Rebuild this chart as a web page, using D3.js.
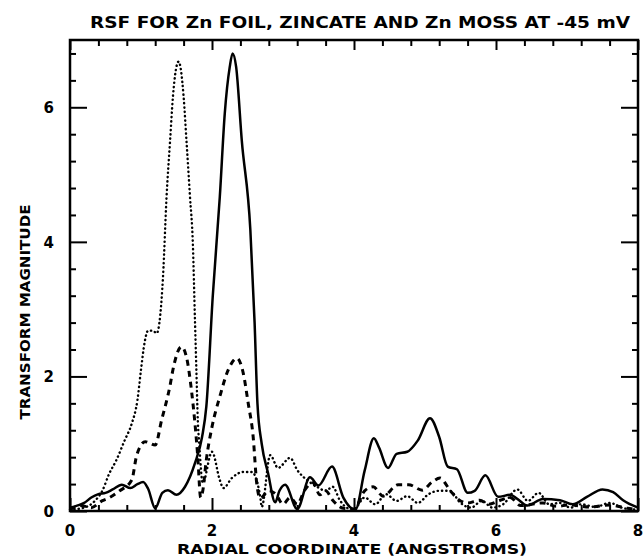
<!DOCTYPE html>
<html>
<head>
<meta charset="utf-8">
<script src="https://cdn.jsdelivr.net/npm/d3@7"></script>
<style>
  body { margin: 0; background: #fff; }
  text { font-family: "DejaVu Sans", sans-serif; font-weight: bold; fill: #000; }
</style>
</head>
<body>
<div id="chart"></div>
<script>
// Curve data (radial coordinate, transform magnitude)
var solidX = [0, 0.1, 0.2, 0.3, 0.4, 0.5, 0.6, 0.73, 0.85, 0.95, 1.03, 1.1, 1.2, 1.3, 1.38, 1.5, 1.62, 1.76, 1.86, 1.92, 2.01, 2.11, 2.18, 2.25, 2.29, 2.34, 2.42, 2.54, 2.6, 2.64, 2.7, 2.79, 2.89, 2.95, 3.03, 3.2, 3.38, 3.5, 3.69, 3.85, 4.02, 4.15, 4.28, 4.35, 4.48, 4.6, 4.75, 4.9, 5.07, 5.2, 5.32, 5.45, 5.6, 5.7, 5.85, 6.03, 6.2, 6.3, 6.44, 6.66, 6.9, 7.08, 7.28, 7.5, 7.65, 7.79, 8.0];
var solidY = [0.05, 0.08, 0.12, 0.2, 0.25, 0.27, 0.32, 0.39, 0.34, 0.4, 0.43, 0.33, 0.04, 0.27, 0.31, 0.24, 0.36, 0.71, 1.1, 1.55, 3.18, 4.67, 5.91, 6.6, 6.8, 6.6, 5.5, 4.18, 2.8, 1.6, 1.0, 0.56, 0.13, 0.3, 0.39, 0.03, 0.5, 0.38, 0.66, 0.2, 0.02, 0.6, 1.08, 0.95, 0.64, 0.85, 0.88, 1.05, 1.38, 1.1, 0.66, 0.62, 0.27, 0.3, 0.53, 0.21, 0.24, 0.18, 0.08, 0.18, 0.16, 0.1, 0.21, 0.32, 0.28, 0.16, 0.05];

var dashX = [0, 0.15, 0.3, 0.45, 0.54, 0.7, 0.87, 0.94, 1.06, 1.2, 1.29, 1.41, 1.45, 1.57, 1.64, 1.71, 1.76, 1.8, 1.84, 1.87, 1.92, 2.0, 2.11, 2.23, 2.35, 2.44, 2.51, 2.58, 2.63, 2.68, 2.8, 2.9, 3.0, 3.1, 3.2, 3.3, 3.42, 3.52, 3.6, 3.7, 3.85, 4.0, 4.15, 4.27, 4.41, 4.62, 4.77, 4.96, 5.1, 5.21, 5.35, 5.45, 5.6, 5.77, 5.9, 6.06, 6.2, 6.35, 6.5, 6.66, 6.85, 7.04, 7.32, 7.6, 7.85, 8.0];
var dashY = [0.02, 0.08, 0.05, 0.15, 0.19, 0.3, 0.46, 0.83, 1.03, 0.98, 1.35, 1.87, 2.1, 2.44, 2.29, 1.8, 1.3, 0.8, 0.2, 0.3, 0.76, 1.25, 1.7, 2.1, 2.27, 2.05, 1.6, 1.1, 0.41, 0.19, 0.3, 0.25, 0.1, 0.2, 0.1, 0.3, 0.42, 0.24, 0.3, 0.16, 0.04, 0.03, 0.3, 0.36, 0.22, 0.39, 0.39, 0.31, 0.43, 0.49, 0.31, 0.19, 0.12, 0.16, 0.1, 0.16, 0.2, 0.08, 0.1, 0.12, 0.07, 0.09, 0.06, 0.09, 0.04, 0.02];

var dotX = [0, 0.2, 0.35, 0.46, 0.55, 0.65, 0.77, 0.87, 0.95, 1.0, 1.05, 1.1, 1.17, 1.22, 1.27, 1.31, 1.36, 1.41, 1.45, 1.53, 1.6, 1.64, 1.69, 1.73, 1.76, 1.78, 1.8, 1.82, 1.87, 2.0, 2.11, 2.16, 2.28, 2.44, 2.56, 2.68, 2.7, 2.82, 2.93, 3.1, 3.2, 3.35, 3.48, 3.6, 3.7, 3.8, 3.92, 4.0, 4.15, 4.3, 4.45, 4.6, 4.75, 4.9, 5.05, 5.2, 5.35, 5.5, 5.65, 5.8, 5.95, 6.1, 6.3, 6.45, 6.6, 6.75, 6.9, 7.05, 7.2, 7.4, 7.6, 7.8, 8.0];
var dotY = [0.02, 0.05, 0.15, 0.31, 0.55, 0.75, 1.05, 1.3, 1.65, 2.1, 2.5, 2.68, 2.68, 2.64, 2.9, 3.48, 4.67, 5.51, 6.16, 6.68, 6.16, 5.51, 4.67, 3.98, 2.84, 2.1, 1.35, 1.0, 0.42, 0.88, 0.46, 0.34, 0.49, 0.58, 0.58, 0.21, 0.06, 0.83, 0.64, 0.79, 0.61, 0.45, 0.36, 0.3, 0.36, 0.16, 0.04, 0.03, 0.2, 0.1, 0.25, 0.15, 0.22, 0.12, 0.25, 0.3, 0.3, 0.12, 0.05, 0.15, 0.05, 0.1, 0.32, 0.15, 0.27, 0.1, 0.12, 0.05, 0.1, 0.06, 0.12, 0.04, 0.02];

var xMajor = [0, 2, 4, 6, 8];
var yMajor = [0, 2, 4, 6];

var titleText = "RSF FOR Zn FOIL, ZINCATE AND Zn MOSS AT -45 mV";
var xLabel = "RADIAL COORDINATE (ANGSTROMS)";
var yLabel = "TRANSFORM MAGNITUDE";

// Set the dimensions and margins of the graph
var margin = { top: 40, right: 6, bottom: 47, left: 70 },
    width = 644 - margin.left - margin.right,
    height = 558 - margin.top - margin.bottom;

var svg = d3.select("#chart")
    .append("svg")
    .attr("width", 644)
    .attr("height", 558)
    .append("g")
    .attr("transform", "translate(" + margin.left + "," + margin.top + ")");

var x = d3.scaleLinear().domain([0, 8]).range([0, width]);
var y = d3.scaleLinear().domain([0, 7]).range([height, 0]);

var xMinor = d3.range(0.4, 8, 0.4).filter(function (v) { return Math.abs(v / 2 - Math.round(v / 2)) > 0.01; });
var yMinor = d3.range(0.4, 7, 0.4).filter(function (v) { return Math.abs(v / 2 - Math.round(v / 2)) > 0.01; });

// Ticks on all four sides, pointing inward
function tickAxis(axis, vals, size) {
    return axis.tickValues(vals).tickSize(-size).tickFormat("");
}
var axes = [
    { a: d3.axisBottom(x), t: "translate(0," + height + ")", maj: xMajor, min: xMinor, big: 13 },
    { a: d3.axisTop(x), t: "translate(0,0)", maj: xMajor, min: xMinor, big: 10 },
    { a: d3.axisLeft(y), t: "translate(0,0)", maj: yMajor, min: yMinor, big: 17 },
    { a: d3.axisRight(y), t: "translate(" + width + ",0)", maj: yMajor, min: yMinor, big: 17 }
];
axes.forEach(function (ax) {
    var gMaj = svg.append("g").attr("transform", ax.t).call(tickAxis(ax.a, ax.maj, ax.big));
    gMaj.select(".domain").remove();
    gMaj.selectAll("line").attr("stroke", "#000").attr("stroke-width", 2);
    var gMin = svg.append("g").attr("transform", ax.t).call(tickAxis(ax.a, ax.min, 6));
    gMin.select(".domain").remove();
    gMin.selectAll("line").attr("stroke", "#000").attr("stroke-width", 2);
});

// Frame
svg.append("rect")
    .attr("width", width)
    .attr("height", height)
    .attr("fill", "none")
    .attr("stroke", "#000")
    .attr("stroke-width", 2.5);

// Tick labels
svg.selectAll(".xl")
    .data(xMajor)
    .enter()
    .append("text")
    .attr("x", function (d) { return x(d); })
    .attr("y", height + 25)
    .attr("text-anchor", "middle")
    .style("font-size", "15px")
    .text(function (d) { return d; });

svg.selectAll(".yl")
    .data(yMajor)
    .enter()
    .append("text")
    .attr("x", -16)
    .attr("y", function (d) { return y(d) + 6; })
    .attr("text-anchor", "end")
    .style("font-size", "15px")
    .text(function (d) { return d; });

// Titles
svg.append("text")
    .attr("x", width - 8)
    .attr("y", -12)
    .attr("text-anchor", "end")
    .attr("textLength", 540)
    .attr("lengthAdjust", "spacingAndGlyphs")
    .style("font-size", "15px")
    .text(titleText);

svg.append("text")
    .attr("x", width / 2 - 2)
    .attr("y", height + 43)
    .attr("text-anchor", "middle")
    .attr("textLength", 350)
    .attr("lengthAdjust", "spacingAndGlyphs")
    .style("font-size", "14px")
    .text(xLabel);

svg.append("text")
    .attr("transform", "translate(" + (-40) + "," + 272 + ") rotate(-90)")
    .attr("text-anchor", "middle")
    .attr("textLength", 215)
    .attr("lengthAdjust", "spacingAndGlyphs")
    .style("font-size", "14px")
    .text(yLabel);

// Curves
var line = d3.line()
    .x(function (d) { return x(d[0]); })
    .y(function (d) { return y(Math.max(0, d[1])); })
    .curve(d3.curveMonotoneX);

function pairs(xs, ys) { return xs.map(function (v, i) { return [v, ys[i]]; }); }

svg.append("path")
    .datum(pairs(dotX, dotY))
    .attr("d", line)
    .attr("fill", "none")
    .attr("stroke", "#000")
    .attr("stroke-width", 2.4)
    .attr("stroke-linecap", "round")
    .attr("stroke-dasharray", "0.3,4");

svg.append("path")
    .datum(pairs(dashX, dashY))
    .attr("d", line)
    .attr("fill", "none")
    .attr("stroke", "#000")
    .attr("stroke-width", 3)
    .attr("stroke-dasharray", "6,5");

svg.append("path")
    .datum(pairs(solidX, solidY))
    .attr("d", line)
    .attr("fill", "none")
    .attr("stroke", "#000")
    .attr("stroke-width", 2.5);
</script>
</body>
</html>
